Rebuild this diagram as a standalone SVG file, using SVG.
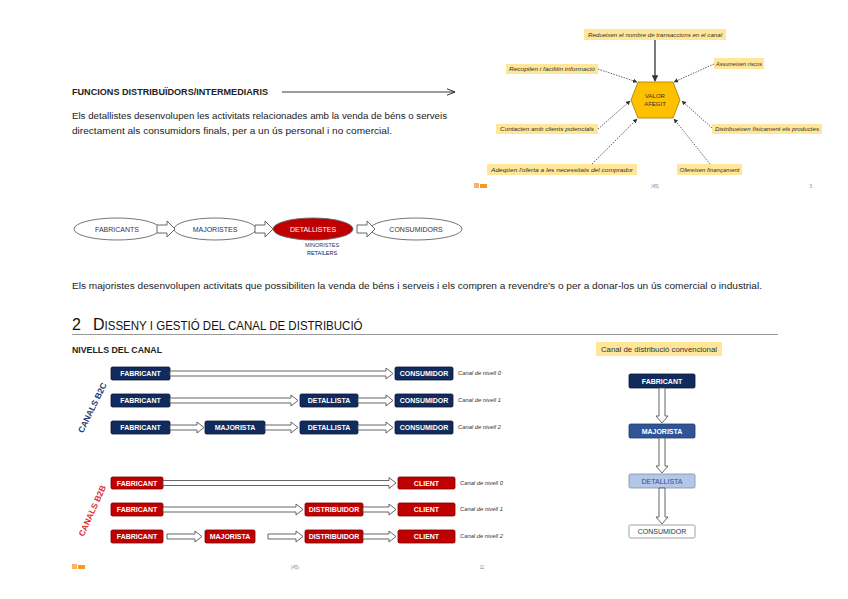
<svg xmlns="http://www.w3.org/2000/svg" width="848" height="599" viewBox="0 0 848 599">
<defs>
<marker id="arr" viewBox="0 0 10 10" refX="9" refY="5" markerWidth="5" markerHeight="5" orient="auto"><path d="M0,0 L10,5 L0,10 Z" fill="#333"/></marker>
<marker id="chev" viewBox="0 0 10 10" refX="10" refY="5" markerWidth="8" markerHeight="8" orient="auto" markerUnits="userSpaceOnUse"><path d="M0,1 L10,5 L0,9" fill="none" stroke="#222" stroke-width="1.2"/></marker>
</defs>
<style>
text{font-family:"Liberation Sans","DejaVu Sans",sans-serif;}
.body{font-size:9.6px;fill:#222;}
.hd{font-size:8.6px;font-weight:bold;fill:#222;}
.lbl{fill:#ffe699;}
.lt{font-size:6px;font-style:italic;fill:#333;}
.dot{stroke:#555;stroke-width:0.9;stroke-dasharray:1.5,1.2;fill:none;marker-end:url(#arr);}
.navy{fill:#112b5c;stroke:#08183a;stroke-width:0.8;}
.red{fill:#c00000;stroke:#7a0000;stroke-width:0.8;}
.bt{font-size:7px;font-weight:bold;fill:#fff;text-anchor:middle;}
.ha{fill:#fff;stroke:#555;stroke-width:0.9;}
.nl{font-size:5.8px;font-style:italic;fill:#333;}
.ell{fill:#fff;stroke:#666;stroke-width:0.9;}
.et{font-size:7px;text-anchor:middle;}
</style>
<rect width="848" height="599" fill="#fff"/>

<!-- Header text -->
<g id="header">
<text class="hd" x="72" y="95" textLength="196" lengthAdjust="spacingAndGlyphs">FUNCIONS DISTRIBUÏDORS/INTERMEDIARIS</text>
<line x1="282" y1="92" x2="455" y2="92" stroke="#222" stroke-width="0.9" marker-end="url(#chev)"/>
<text class="body" x="72" y="119" textLength="375" lengthAdjust="spacingAndGlyphs">Els detallistes desenvolupen les activitats relacionades amb la venda de béns o serveis</text>
<text class="body" x="72" y="134" textLength="320" lengthAdjust="spacingAndGlyphs">directament als consumidors finals, per a un ús personal i no comercial.</text>
</g>

<!-- Value hexagon diagram -->
<g id="valor-afegit">
<polygon points="638,82 673,82 680,100 673,118 638,118 631,100" fill="#ffc000" stroke="#a07800" stroke-width="0.8"/>
<text x="655" y="98" font-size="6" fill="#333" text-anchor="middle">VALOR</text>
<text x="655" y="106" font-size="6" fill="#333" text-anchor="middle">AFEGIT</text>
</g>
<g id="lbl-redueixen"><rect class="lbl" x="584" y="29" width="142" height="11"/><text class="lt" x="655" y="36.5" text-anchor="middle" textLength="134" lengthAdjust="spacingAndGlyphs">Redueixen el nombre de transaccions en el canal</text></g>
<g id="lbl-recopilen"><rect class="lbl" x="506" y="64" width="92" height="10"/><text class="lt" x="552" y="71" text-anchor="middle" textLength="86" lengthAdjust="spacingAndGlyphs">Recopilen i facilitin informació</text></g>
<g id="lbl-assumeixen"><rect class="lbl" x="714" y="58" width="50" height="11"/><text class="lt" x="739" y="65.5" text-anchor="middle" textLength="46" lengthAdjust="spacingAndGlyphs">Assumeixen riscos</text></g>
<g id="lbl-contacten"><rect class="lbl" x="496" y="124" width="102" height="10"/><text class="lt" x="547" y="131" text-anchor="middle" textLength="94" lengthAdjust="spacingAndGlyphs">Contacten amb clients potencials</text></g>
<g id="lbl-distribueixen"><rect class="lbl" x="712" y="124" width="110" height="10"/><text class="lt" x="767" y="131" text-anchor="middle" textLength="104" lengthAdjust="spacingAndGlyphs">Distribueixen físicament els productes</text></g>
<g id="lbl-adequen"><rect class="lbl" x="487" y="164" width="150" height="11"/><text class="lt" x="562" y="171.5" text-anchor="middle" textLength="142" lengthAdjust="spacingAndGlyphs">Adeqüen l'oferta a les necessitats del comprador</text></g>
<g id="lbl-ofereixen"><rect class="lbl" x="677" y="164" width="65" height="11"/><text class="lt" x="709.5" y="171.5" text-anchor="middle" textLength="60" lengthAdjust="spacingAndGlyphs">Ofereixen finançament</text></g>
<g id="connectors-valor">
<line x1="655" y1="40" x2="655" y2="81" stroke="#333" stroke-width="1.3" marker-end="url(#arr)"/>
<line class="dot" x1="598" y1="69" x2="637" y2="82"/>
<line class="dot" x1="714" y1="64" x2="674" y2="82"/>
<line class="dot" x1="598" y1="129" x2="630" y2="101"/>
<line class="dot" x1="712" y1="128" x2="682" y2="101"/>
<line class="dot" x1="592" y1="164" x2="637" y2="119"/>
<line class="dot" x1="710" y1="164" x2="674" y2="119"/>
</g>
<g id="footer-top">
<rect x="474" y="183" width="5" height="5" fill="#f8b26a"/><rect x="480" y="184" width="7" height="4" fill="#f59a23"/>
<text x="655" y="188" font-size="4.5" fill="#889" text-anchor="middle">|45|</text>
<text x="811" y="188" font-size="4.5" fill="#889" text-anchor="middle">5</text>
</g>

<!-- Ellipse chain -->
<g id="e-fabricants"><ellipse class="ell" cx="117" cy="229" rx="43" ry="11"/><text class="et" x="117" y="231.5" fill="#4a2e48">FABRICANTS</text></g>
<g id="e-majoristes"><ellipse class="ell" cx="215" cy="229" rx="41" ry="11"/><text class="et" x="215" y="231.5" fill="#2a2f6a">MAJORISTES</text></g>
<g id="e-detallistes"><ellipse cx="313" cy="229" rx="40" ry="11" fill="#c00000" stroke="#666" stroke-width="0.9"/><text class="et" x="313" y="231.5" fill="#fff">DETALLISTES</text></g>
<g id="e-consumidors"><ellipse class="ell" cx="416" cy="229" rx="46" ry="11"/><text class="et" x="416" y="231.5" fill="#333">CONSUMIDORS</text></g>
<text x="322" y="247" font-size="5.5" fill="#4a2e48" text-anchor="middle">MINORISTES</text>
<text x="322" y="255" font-size="5.5" fill="#14204a" text-anchor="middle">RETAILERS</text>
<g id="connectors-ellipses">
<path class="ha" d="M157,225 H167 V221 L175,229 L167,237 V233 H157 Z"/>
<path class="ha" d="M255,225 H265 V221 L273,229 L265,237 V233 H255 Z"/>
<path class="ha" d="M357,225 H367 V221 L375,229 L367,237 V233 H357 Z"/>
</g>

<text class="body" x="72" y="289" textLength="690" lengthAdjust="spacingAndGlyphs">Els majoristes desenvolupen activitats que possibiliten la venda de béns i serveis i els compren a revendre’s o per a donar-los un ús comercial o industrial.</text>

<!-- Section heading -->
<g id="section">
<text x="72" y="330" font-size="16" fill="#111">2</text>
<text x="93" y="330" fill="#111"><tspan font-size="16">D</tspan><tspan font-size="12.3" textLength="258" lengthAdjust="spacingAndGlyphs">ISSENY I GESTIÓ DEL CANAL DE DISTRIBUCIÓ</tspan></text>
<line x1="72" y1="334.5" x2="778" y2="334.5" stroke="#999" stroke-width="1.2"/>
<text class="hd" x="72" y="353" textLength="90" lengthAdjust="spacingAndGlyphs">NIVELLS DEL CANAL</text>
</g>

<!-- B2C -->
<text x="0" y="0" font-size="8.5" font-weight="bold" fill="#1f3a78" text-anchor="middle" transform="translate(95,409) rotate(-64)">CANALS B2C</text>
<g id="b2c-r1">
<g id="b2c-1-fab"><rect class="navy" x="111" y="367" width="59" height="13" rx="1.5"/><text class="bt" x="140.5" y="376">FABRICANT</text></g>
<g id="b2c-1-con"><rect class="navy" x="395" y="367" width="58" height="13" rx="1.5"/><text class="bt" x="424" y="376">CONSUMIDOR</text></g>
<text class="nl" x="458" y="375">Canal de nivell 0</text>
</g>
<g id="b2c-r2">
<g id="b2c-2-fab"><rect class="navy" x="111" y="394" width="59" height="13" rx="1.5"/><text class="bt" x="140.5" y="403">FABRICANT</text></g>
<g id="b2c-2-det"><rect class="navy" x="300" y="394" width="58" height="13" rx="1.5"/><text class="bt" x="329" y="403">DETALLISTA</text></g>
<g id="b2c-2-con"><rect class="navy" x="395" y="394" width="58" height="13" rx="1.5"/><text class="bt" x="424" y="403">CONSUMIDOR</text></g>
<text class="nl" x="458" y="402">Canal de nivell 1</text>
</g>
<g id="b2c-r3">
<g id="b2c-3-fab"><rect class="navy" x="111" y="421" width="59" height="13" rx="1.5"/><text class="bt" x="140.5" y="430">FABRICANT</text></g>
<g id="b2c-3-maj"><rect class="navy" x="205" y="421" width="60" height="13" rx="1.5"/><text class="bt" x="235" y="430">MAJORISTA</text></g>
<g id="b2c-3-det"><rect class="navy" x="300" y="421" width="58" height="13" rx="1.5"/><text class="bt" x="329" y="430">DETALLISTA</text></g>
<g id="b2c-3-con"><rect class="navy" x="395" y="421" width="58" height="13" rx="1.5"/><text class="bt" x="424" y="430">CONSUMIDOR</text></g>
<text class="nl" x="458" y="429">Canal de nivell 2</text>
</g>

<!-- B2B -->
<text x="0" y="0" font-size="8.5" font-weight="bold" fill="#e03030" text-anchor="middle" transform="translate(95,512) rotate(-66)">CANALS B2B</text>
<g id="b2b-r1">
<g id="b2b-1-fab"><rect class="red" x="111" y="477" width="52" height="12" rx="1.5"/><text class="bt" x="137" y="485.5">FABRICANT</text></g>
<g id="b2b-1-cli"><rect class="red" x="398" y="477" width="57" height="12" rx="1.5"/><text class="bt" x="426.5" y="485.5">CLIENT</text></g>
<text class="nl" x="460" y="485">Canal de nivell 0</text>
</g>
<g id="b2b-r2">
<g id="b2b-2-fab"><rect class="red" x="111" y="503" width="52" height="13" rx="1.5"/><text class="bt" x="137" y="512">FABRICANT</text></g>
<g id="b2b-2-dis"><rect class="red" x="305" y="503" width="58" height="13" rx="1.5"/><text class="bt" x="334" y="512">DISTRIBUIDOR</text></g>
<g id="b2b-2-cli"><rect class="red" x="398" y="503" width="57" height="13" rx="1.5"/><text class="bt" x="426.5" y="512">CLIENT</text></g>
<text class="nl" x="460" y="511">Canal de nivell 1</text>
</g>
<g id="b2b-r3">
<g id="b2b-3-fab"><rect class="red" x="111" y="530" width="52" height="13" rx="1.5"/><text class="bt" x="137" y="539">FABRICANT</text></g>
<g id="b2b-3-maj"><rect class="red" x="205" y="530" width="50" height="13" rx="1.5"/><text class="bt" x="230" y="539">MAJORISTA</text></g>
<g id="b2b-3-dis"><rect class="red" x="305" y="530" width="58" height="13" rx="1.5"/><text class="bt" x="334" y="539">DISTRIBUIDOR</text></g>
<g id="b2b-3-cli"><rect class="red" x="398" y="530" width="57" height="13" rx="1.5"/><text class="bt" x="426.5" y="539">CLIENT</text></g>
<text class="nl" x="460" y="538">Canal de nivell 2</text>
</g>

<!-- Conventional channel -->
<g id="conv-label"><rect class="lbl" x="596" y="342" width="126" height="14"/><text x="659" y="352" font-size="7" fill="#333" text-anchor="middle" textLength="116" lengthAdjust="spacingAndGlyphs">Canal de distribució convencional</text></g>
<g id="conv-fab"><rect x="629" y="374" width="66" height="14" rx="1.5" fill="#112b5c" stroke="#08183a" stroke-width="0.8"/><text class="bt" x="662" y="383.5">FABRICANT</text></g>
<g id="conv-maj"><rect x="629" y="424" width="66" height="14" rx="1.5" fill="#2f5597" stroke="#1f3a6a" stroke-width="0.8"/><text class="bt" x="662" y="433.5">MAJORISTA</text></g>
<g id="conv-det"><rect x="629" y="474" width="66" height="14" rx="1.5" fill="#b4c7e7" stroke="#7f8fa8" stroke-width="0.8"/><text x="662" y="483.5" font-size="7" fill="#2f4f8f" text-anchor="middle">DETALLISTA</text></g>
<g id="conv-con"><rect x="629" y="525" width="66" height="13" rx="1.5" fill="#fff" stroke="#888" stroke-width="0.8"/><text x="662" y="534" font-size="7" fill="#333" text-anchor="middle">CONSUMIDOR</text></g>

<!-- Connectors for channels -->
<g id="connectors-channels">
<path class="ha" d="M170,371 H386 V368 L393,373.5 L386,379 V376 H170 Z"/>
<path class="ha" d="M170,398 H291 V395 L298,400.5 L291,406 V403 H170 Z"/>
<path class="ha" d="M358,398 H386 V395 L393,400.5 L386,406 V403 H358 Z"/>
<path class="ha" d="M170,425 H197 V422 L204,427.5 L197,433 V430 H170 Z"/>
<path class="ha" d="M265,425 H291 V422 L298,427.5 L291,433 V430 H265 Z"/>
<path class="ha" d="M358,425 H386 V422 L393,427.5 L386,433 V430 H358 Z"/>

<path class="ha" d="M163,480.5 H389 V477.5 L396,483 L389,488.5 V485.5 H163 Z"/>
<path class="ha" d="M163,507 H296 V504 L303,509.5 L296,515 V512 H163 Z"/>
<path class="ha" d="M363,507 H389 V504 L396,509.5 L389,515 V512 H363 Z"/>
<path class="ha" d="M167,534 H195 V531 L202,536.5 L195,542 V539 H167 Z"/>
<path class="ha" d="M268,534 H296 V531 L303,536.5 L296,542 V539 H268 Z"/>
<path class="ha" d="M363,534 H389 V531 L396,536.5 L389,542 V539 H363 Z"/>

<path class="ha" d="M659,388 V416 H656 L662,423 L668,416 H665 V388 Z"/>
<path class="ha" d="M659,438 V466 H656 L662,473 L668,466 H665 V438 Z"/>
<path class="ha" d="M659,488 V517 H656 L662,524 L668,517 H665 V488 Z"/>
</g>

<g id="footer-bottom">
<rect x="72" y="564" width="5" height="5" fill="#f8b26a"/><rect x="78" y="565" width="7" height="4" fill="#f59a23"/>
<text x="295" y="569" font-size="4.5" fill="#889" text-anchor="middle">(45)</text>
<text x="482" y="569" font-size="4.5" fill="#889" text-anchor="middle">11</text>
</g>
</svg>
